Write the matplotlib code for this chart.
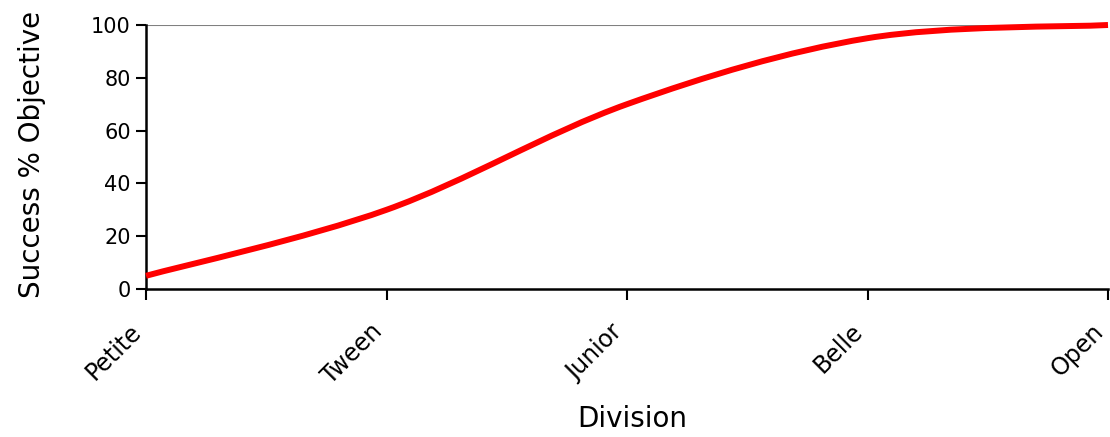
import numpy as np
import matplotlib.pyplot as plt
from matplotlib.path import Path
from matplotlib.patches import PathPatch

divisions = ["Petite", "Tween", "Junior", "Belle", "Open"]
success = [5, 30, 70, 95, 100]


def smooth_path(xs, ys):
    # Cubic Bezier through every point, control points from the neighbours
    pts = np.column_stack([xs, ys]).astype(float)
    n = len(pts)
    verts = [pts[0]]
    codes = [Path.MOVETO]
    for i in range(n - 1):
        prev = pts[max(i - 1, 0)]
        nxt = pts[min(i + 2, n - 1)]
        c1 = pts[i] + (pts[i + 1] - prev) / 6.0
        c2 = pts[i + 1] - (nxt - pts[i]) / 6.0
        verts += [c1, c2, pts[i + 1]]
        codes += [Path.CURVE4] * 3
    return Path(verts, codes)


def main():
    plt.rcParams["font.family"] = "DejaVu Sans"

    fig = plt.figure(figsize=(11.1, 4.37), dpi=100)
    ax = fig.add_axes([146 / 1110, 1 - 289 / 437, 962 / 1110, 264 / 437])

    x = np.arange(len(divisions))
    patch = PathPatch(smooth_path(x, success), facecolor="none",
                      edgecolor="#ff0000", linewidth=4.3, clip_on=False,
                      capstyle="butt", zorder=3)
    ax.add_patch(patch)

    ax.set_xlim(0, len(divisions) - 1)
    ax.set_ylim(0, 100)
    ax.set_yticks(range(0, 101, 20))
    ax.set_xticks(x)
    ax.set_xticklabels(divisions, rotation=45, ha="right", fontsize=17)
    ax.tick_params(axis="y", labelsize=15, length=7, width=1.5, pad=4)
    ax.tick_params(axis="x", length=8, width=1.5, pad=14)

    ax.axhline(100, color="#808080", linewidth=1.5, zorder=1)
    for side in ["top", "right"]:
        ax.spines[side].set_visible(False)
    for side in ["left", "bottom"]:
        ax.spines[side].set_linewidth(1.8)

    ax.set_xlabel("Division", fontsize=20)
    ax.set_ylabel("Success % Objective", fontsize=20)
    ax.xaxis.set_label_coords(0.505, -0.44)
    ax.yaxis.set_label_coords(-0.104, 0.508)

    fig.savefig("out.png", dpi=100)


if __name__ == "__main__":
    main()
